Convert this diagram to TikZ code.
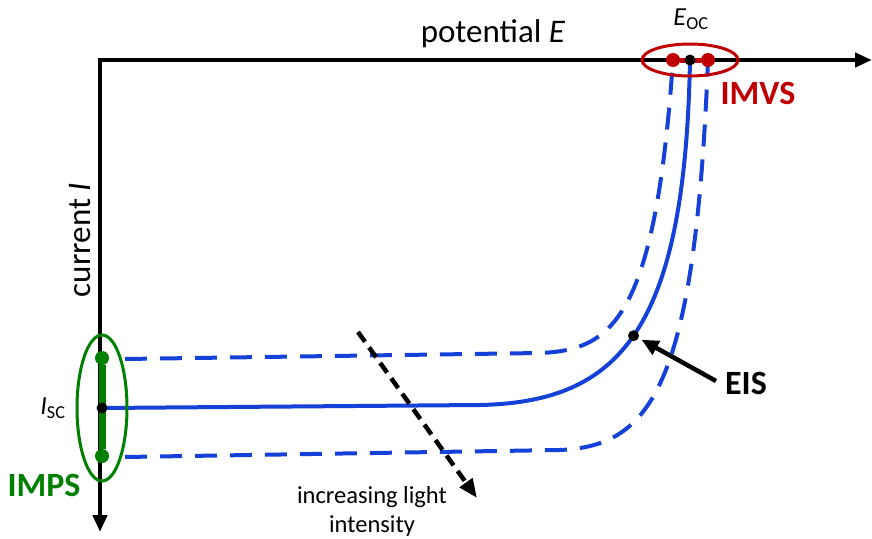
\documentclass[tikz,border=0pt]{standalone}
\usepackage{fontspec}
\setmainfont{Carlito}
\usetikzlibrary{arrows.meta}
\definecolor{cblue}{RGB}{20,65,215}
\definecolor{cred}{RGB}{192,0,0}
\definecolor{cgreen}{RGB}{0,128,0}
\tikzset{
  axis/.style={line width=4.5pt,-{Triangle[length=17pt,width=14pt]}},
  solidcurve/.style={cblue,line width=4pt},
  dashcurve/.style={cblue,line width=4pt,dash pattern=on 22pt off 13pt},
  dotb/.style={circle,fill=black,inner sep=0pt,minimum size=11pt},
  dotr/.style={circle,fill=cred,inner sep=0pt,minimum size=14pt},
  dotg/.style={circle,fill=cgreen,inner sep=0pt,minimum size=14pt},
  lbl/.style={font=\fontsize{33}{38}\selectfont,inner sep=0pt},
  small/.style={font=\fontsize{24.5}{29}\selectfont,inner sep=0pt,align=center},
  bigbold/.style={font=\fontsize{34}{38}\selectfont\bfseries,inner sep=0pt},
}
\begin{document}
\begin{tikzpicture}[x=1pt,y=-1pt]
\useasboundingbox (0,0) rectangle (872,538);
% axes
\coordinate (o) at (100,60);
\coordinate (xend) at (872,60);
\coordinate (yend) at (100,532);
\draw[axis,line cap=rect] (o) -- (xend);
\draw[axis] (o) -- (yend);
\node[lbl] (pot) at (493,34) {potential \textit{E}};
\node[lbl,rotate=90] (cur) at (80,240) {current \textit{I}};
% curves
\coordinate (isc) at (102,408);
\coordinate (eoc) at (690,60);
\coordinate (up0) at (125,359);
\coordinate (up1) at (673,60);
\coordinate (lo0) at (125,457);
\coordinate (lo1) at (708,60);
\draw[solidcurve] (isc) -- (480,405) .. controls (620,402) and (685,330) .. (eoc) coordinate[pos=0.49] (eis);
\draw[dashcurve] (up0) -- (540,353) .. controls (612,350) and (655,320) .. (up1);
\draw[dashcurve] (lo0) -- (560,450) .. controls (650,446) and (695,390) .. (lo1);
% IMVS
\draw[cred,line width=3pt] (690,60) ellipse [x radius=48pt,y radius=16pt];
\node[dotr] (r1) at (673,60) {};
\node[dotr] (r2) at (708,60) {};
\draw[cred,line width=5pt] (r1) -- (r2);
\node[dotb] (eocdot) at (eoc) {};
\node[font=\fontsize{26}{30}\selectfont,inner sep=0pt] (eoclbl) at (691,19) {\textit{E}\textsubscript{OC}};
\node[bigbold,text=cred] (imvs) at (758,93) {IMVS};
% IMPS
\draw[cgreen,line width=3pt] (102,408) ellipse [x radius=25pt,y radius=73pt];
\node[dotg] (g1) at (102,358) {};
\node[dotg] (g2) at (102,456) {};
\draw[cgreen,line width=7pt] (g1) -- (g2);
\node[dotb] (iscdot) at (isc) {};
\node[font=\fontsize{26}{30}\selectfont,inner sep=0pt] (isclbl) at (53,408) {\textit{I}\textsubscript{SC}};
\node[bigbold,text=cgreen] (imps) at (44,485) {IMPS};
% EIS
\node[dotb] (eisdot) at (eis) {};
\node[bigbold] (eislbl) at (746,383) {EIS};
\coordinate (eistail) at (716,381);
\draw[line width=4.5pt,-{Triangle[length=17pt,width=15pt]}] (eistail) -- ([shift={(8,4)}]eis);
% light arrow
\coordinate (la0) at (358,332);
\coordinate (la1) at (477,498);
\draw[line width=4.5pt,dash pattern=on 12pt off 7pt,-{Triangle[length=19pt,width=15pt]}] (la0) -- (la1);
\node[small] (light) at (372,511) {increasing light\\intensity};
\end{tikzpicture}
\end{document}
